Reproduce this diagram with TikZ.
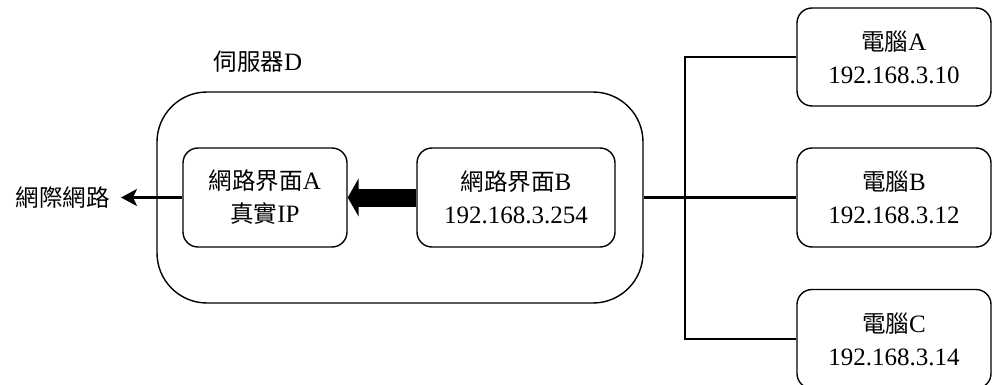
\documentclass[tikz,border=0pt]{standalone}
\usepackage{fontspec}
\setmainfont{Liberation Serif}
\newfontfamily\zhfont{Noto Sans CJK TC}
\newcommand{\zh}[1]{{\zhfont\fontsize{23.5}{33}\selectfont #1}}
\usetikzlibrary{arrows.meta}
\begin{document}
\begin{tikzpicture}[x=1pt,y=-1pt,
  every node/.style={font=\fontsize{25}{33}\selectfont},
  box/.style={draw, line width=1.4pt, rounded corners=15pt, align=center, inner sep=0pt},
  link/.style={line width=2.2pt}]
\useasboundingbox (0,0) rectangle (992,385);
% server
\node[draw, line width=1.4pt, rounded corners=50pt, minimum width=486pt, minimum height=211pt, inner sep=0pt] (D) at (400,197.5) {};
\node (Dlabel) at (258,62) {\zh{伺服器}D};
\node[box, minimum width=164pt, minimum height=99pt] (A) at (265,197.5) {\zh{網路界面}A\\\zh{真實}IP};
\node[box, minimum width=198pt, minimum height=99pt] (B) at (516,197.5) {\zh{網路界面}B\\192.168.3.254};
\node[anchor=east, inner xsep=11pt, inner ysep=0pt] (net) at (121,197.5) {\zh{網際網路}};
% computers
\node[box, minimum width=194pt, minimum height=98pt] (pcA) at (894,57) {\zh{電腦}A\\192.168.3.10};
\node[box, minimum width=194pt, minimum height=99pt] (pcB) at (894,197.5) {\zh{電腦}B\\192.168.3.12};
\node[box, minimum width=194pt, minimum height=99pt] (pcC) at (894,339) {\zh{電腦}C\\192.168.3.14};
\coordinate (J) at (685,197.5);
% connectors
\draw[line width=18pt, -{Triangle[length=11pt,width=38pt]}] (B.west) -- (A.east);
\draw[link, -{Stealth[length=16pt,width=17pt,inset=4pt]}] (A.west) -- (net.east);
\draw[link] (D.east) -- (J);
\draw[link] (J) -- (pcB.west);
\draw[link] (pcA.west) -| (J) |- (pcC.west);
\end{tikzpicture}
\end{document}
